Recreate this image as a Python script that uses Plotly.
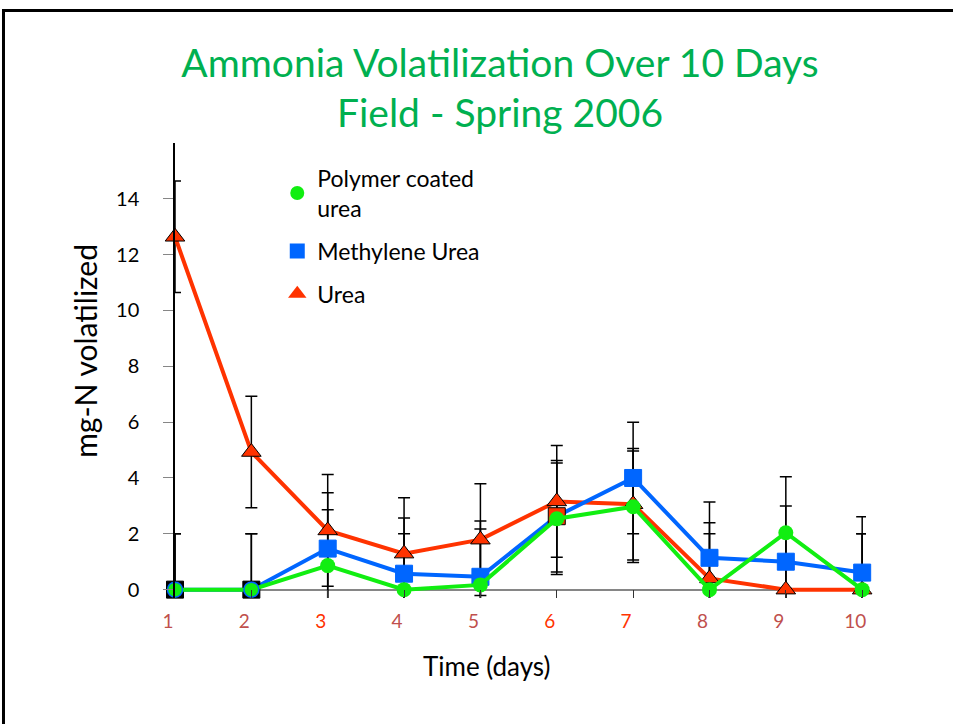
import plotly.graph_objects as go

days = [1, 2, 3, 4, 5, 6, 7, 8, 9, 10]
tick_text = ["1", "2", "3", "4", "5", "6", "7", "8", "9", "10"]
tick_colors = ["#C0504D", "#C0504D", "#FF3300", "#C0504D", "#C0504D",
               "#FF3300", "#FF3300", "#C0504D", "#C0504D", "#C0504D"]

polymer = [0, 0, 0.86, 0, 0.17, 2.54, 2.97, 0, 2.04, 0]
methylene = [0, 0, 1.47, 0.57, 0.46, 2.63, 4.0, 1.14, 1.0, 0.61]
urea = [12.64, 4.93, 2.12, 1.29, 1.79, 3.16, 3.06, 0.4, 0, 0]

polymer_err = [2, 2, 2, 2, 2, 2, 2, 2, 2, 2]
methylene_err = [2, 2, 2, 2, 2, 2, 2, 2, 2, 2]
urea_err = [2, 2, 2, 2, 2, 2, 2, 2, 2, 2]

names = ["Polymer coated<br>urea", "Methylene Urea", "Urea"]

GREEN = "#11EE11"
BLUE = "#0066FF"
RED = "#FF3300"
FONT = "Lato"

fig = go.Figure()

# error bars first (drawn beneath all markers)
for vals, errs in [(urea, urea_err), (methylene, methylene_err), (polymer, polymer_err)]:
    fig.add_trace(go.Scatter(
        x=days, y=vals, mode="markers",
        marker=dict(size=2, opacity=0),
        error_y=dict(type="data", array=errs, visible=True,
                     color="black", thickness=1.5, width=6),
        showlegend=False, hoverinfo="skip", cliponaxis=True,
    ))

# urea
fig.add_trace(go.Scatter(
    x=days, y=urea, mode="lines+markers", name=names[2], showlegend=False,
    line=dict(color=RED, width=4),
    marker=dict(symbol="triangle-up", size=17, color=RED,
                line=dict(color="black", width=1)),
    cliponaxis=False,
))
# methylene
meth_fill = ["black", "black", BLUE, BLUE, BLUE, RED, BLUE, BLUE, BLUE, BLUE]
meth_edge = ["black", "black", BLUE, BLUE, BLUE, "black", BLUE, BLUE, BLUE, BLUE]
fig.add_trace(go.Scatter(
    x=days, y=methylene, mode="lines+markers", name=names[1], showlegend=False,
    line=dict(color=BLUE, width=4),
    marker=dict(symbol="square", size=17, color=meth_fill,
                line=dict(color=meth_edge, width=1)),
    cliponaxis=False,
))
# polymer
poly_edge = [BLUE, BLUE, GREEN, GREEN, GREEN, GREEN, GREEN, GREEN, GREEN, GREEN]
poly_edge_w = [1.5, 1.5, 0, 0, 0, 0, 0, 0, 0, 0]
fig.add_trace(go.Scatter(
    x=days, y=polymer, mode="lines+markers", name=names[0], showlegend=False,
    line=dict(color=GREEN, width=4),
    marker=dict(symbol="circle", size=15, color=GREEN,
                line=dict(color=poly_edge, width=poly_edge_w)),
    cliponaxis=False,
))

# legend entries (markers only)
for nm, sym, col, sz, grp in [(names[0], "circle", GREEN, 14, "a"),
                              (names[1], "square", BLUE, 15, "b"),
                              (names[2], "triangle-up", RED, 16, "c")]:
    fig.add_trace(go.Scatter(
        x=[None], y=[None], mode="markers", name=nm, legendgroup=grp,
        marker=dict(symbol=sym, size=sz, color=col), showlegend=True,
    ))

ticktext_col = [f'<span style="color:{c}">{t}</span>' for t, c in zip(tick_text, tick_colors)]

# slide frame
fig.add_shape(type="rect", xref="paper", yref="paper",
              x0=-0.2482, x1=2, y0=-2, y1=1.291,
              line=dict(color="black", width=3), fillcolor="rgba(0,0,0,0)")

# axis titles placed as in the original
fig.add_annotation(text="Time (days)", xref="paper", yref="paper",
                   x=(486 - 175) / 691, y=(598.4 - 666) / 455.4,
                   xanchor="center", yanchor="middle", showarrow=False,
                   font=dict(size=26, family=FONT, color="black"))
fig.add_annotation(text="mg-N volatilized", xref="paper", yref="paper",
                   x=(85 - 175) / 691, y=(598.4 - 351) / 455.4, textangle=-90,
                   xanchor="center", yanchor="middle", showarrow=False,
                   font=dict(size=30, family=FONT, color="black"))

fig.update_layout(
    width=953, height=724,
    margin=dict(l=175, r=87, t=143, b=126),
    paper_bgcolor="white", plot_bgcolor="white",
    font=dict(family=FONT, color="black"),
    title=dict(text="Ammonia Volatilization Over 10 Days<br>Field - Spring 2006",
               font=dict(size=39, color="#00B050", family=FONT),
               x=0.5247, xref="container", xanchor="center",
               y=0.894, yref="container", yanchor="top"),
    xaxis=dict(range=[1, 10.05], tickmode="array", tickvals=days, ticktext=ticktext_col,
               showgrid=False, zeroline=False, showline=False,
               ticks="inside", ticklen=8, tickcolor="#333333", tickwidth=1,
               tickfont=dict(size=19, family=FONT),
               ticklabelshift=-7, ticklabelstandoff=10),
    yaxis=dict(range=[-0.3, 16], tickmode="array", tickvals=[0, 2, 4, 6, 8, 10, 12, 14],
               showgrid=False, zeroline=True, zerolinecolor="#868686", zerolinewidth=1.5,
               showline=True, linecolor="black", linewidth=1.5,
               ticks="outside", ticklen=10, tickcolor="#868686", tickwidth=1.2,
               tickfont=dict(size=20, family=FONT), ticklabelstandoff=20),
    legend=dict(x=0.148, y=0.97, xanchor="left", yanchor="top",
                font=dict(size=23, family=FONT), tracegroupgap=10,
                bgcolor="rgba(0,0,0,0)", itemsizing="trace"),
    showlegend=True,
)

fig.write_html("out.html", config={"displayModeBar": False},
               post_script="document.body.style.margin='0';")
